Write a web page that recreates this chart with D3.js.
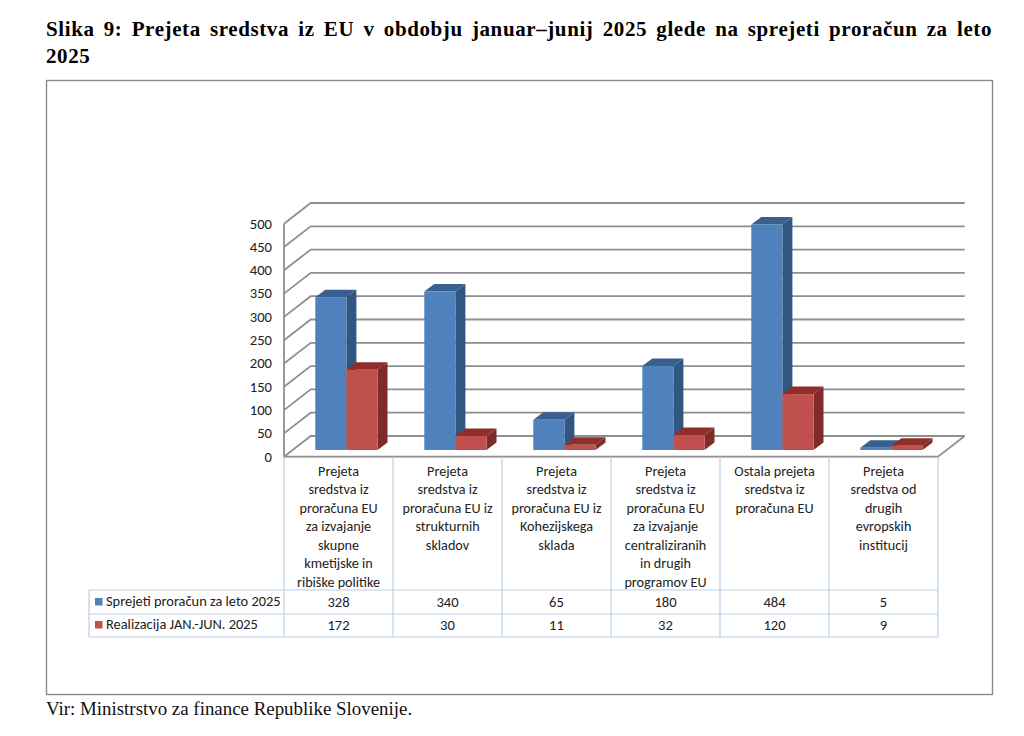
<!DOCTYPE html>
<html>
<head>
<meta charset="utf-8">
<script src="https://cdn.jsdelivr.net/npm/d3@7"></script>
<style>
  html, body { margin: 0; padding: 0; background: #fff; }
  svg { display: block; }
</style>
</head>
<body>
<div id="chart"></div>
<script>
const categories = [
  ["Prejeta", "sredstva iz", "proračuna EU", "za izvajanje", "skupne", "kmetijske in", "ribiške politike"],
  ["Prejeta", "sredstva iz", "proračuna EU iz", "strukturnih", "skladov"],
  ["Prejeta", "sredstva iz", "proračuna EU iz", "Kohezijskega", "sklada"],
  ["Prejeta", "sredstva iz", "proračuna EU", "za izvajanje", "centraliziranih", "in drugih", "programov EU"],
  ["Ostala prejeta", "sredstva iz", "proračuna EU"],
  ["Prejeta", "sredstva od", "drugih", "evropskih", "institucij"]
];
const budget = [328, 340, 65, 180, 484, 5];
const realised = [172, 30, 11, 32, 120, 9];
const seriesNames = ["Sprejeti proračun za leto 2025", "Realizacija JAN.-JUN. 2025"];
const yTicks = [0, 50, 100, 150, 200, 250, 300, 350, 400, 450, 500];
const titleLines = [
  "Slika 9: Prejeta sredstva iz EU v obdobju januar–junij 2025 glede na sprejeti proračun za leto",
  "2025"
];
const sourceText = "Vir: Ministrstvo za finance Republike Slovenije.";

const width = 1024;
const height = 736;

const SERIF = "'Liberation Serif', serif";
const SANS = "Carlito, Lato, 'Open Sans', sans-serif";

const BLUE = { front: "#4f81bd", top: "#37608f", side: "#315682" };
const RED = { front: "#c0504d", top: "#8f2f2c", side: "#7f2b29" };
const GRID = "#8f8f8f";
const TABLE_LINE = "#bccfe8";

// plot box
const FRONT_LEFT = 284;
const FRONT_RIGHT = 938;
const FRONT_ZERO = 456.7;
const WALL_DX = 26.7;
const WALL_DY = -20.7;
const BAR_DX = 10;
const BAR_DY = -7.5;
const BAR_BASE = 450;
const PX_PER_50 = 23.3;

// table
const TABLE_LEFT = 89;
const ROW1_Y = 590;
const ROW2_Y = 614;
const TABLE_BOTTOM = 637;

const svg = d3.select("#chart")
  .append("svg")
  .attr("width", width)
  .attr("height", height);

const x = d3.scaleBand()
  .domain(d3.range(categories.length))
  .range([FRONT_LEFT, FRONT_RIGHT]);

// heights above the floor, shared by gridlines and bars
const yHeight = d3.scaleLinear()
  .domain([0, 50])
  .range([0, PX_PER_50]);

const barX = d3.scaleBand()
  .domain([0, 1])
  .range([31.3, 93.5]);

// ------ title, frame, source ------ //
const title = svg.append("g")
  .style("font-family", SERIF)
  .style("font-weight", "bold")
  .style("font-size", "21px")
  .style("letter-spacing", "0.6px")
  .style("fill", "#000");

titleLines.forEach((line, i) => {
  const t = title.append("text")
    .attr("x", 46)
    .attr("y", 36 + i * 26.5)
    .text(line);
  if (i === 0) {
    // justified to the frame width
    const gaps = line.split(" ").length - 1;
    const extra = (992 - 46 - t.node().getComputedTextLength()) / gaps;
    t.style("word-spacing", extra + "px");
  }
});

svg.append("rect")
  .attr("x", 46.5)
  .attr("y", 80.5)
  .attr("width", 946)
  .attr("height", 614)
  .attr("fill", "#fff")
  .attr("stroke", "#8a8a8a")
  .attr("stroke-width", 1.4);

svg.append("text")
  .attr("x", 46)
  .attr("y", 714.5)
  .style("font-family", SERIF)
  .style("font-size", "18.9px")
  .style("fill", "#111")
  .text(sourceText);

// ------ walls ------ //
const grid = svg.append("g")
  .attr("fill", "none")
  .attr("stroke", GRID)
  .attr("stroke-width", 1.8);

grid.selectAll("path.grid")
  .data(yTicks)
  .enter()
  .append("path")
  .attr("class", "grid")
  .attr("d", (d) => {
    const y0 = FRONT_ZERO - yHeight(d);
    const right = FRONT_RIGHT + WALL_DX;
    return `M${FRONT_LEFT},${y0}L${FRONT_LEFT + WALL_DX},${y0 + WALL_DY}L${right},${y0 + WALL_DY}`;
  });

// front edge of the side wall and of the floor
grid.append("path")
  .attr("d", `M${FRONT_LEFT},${FRONT_ZERO - yHeight(500)}V${FRONT_ZERO}H${FRONT_RIGHT}L${FRONT_RIGHT + WALL_DX},${FRONT_ZERO + WALL_DY}`);

svg.append("g")
  .selectAll("text")
  .data(yTicks)
  .enter()
  .append("text")
  .attr("x", 272)
  .attr("y", (d) => FRONT_ZERO - yHeight(d) + 4.8)
  .attr("text-anchor", "end")
  .style("font-family", SANS)
  .style("font-size", "14.6px")
  .style("fill", "#222")
  .text((d) => d);

// ------ bars ------ //
function drawBar(g, x0, w, value, colors) {
  const h = yHeight(value);
  const top = BAR_BASE - h;
  g.append("path")
    .attr("fill", colors.side)
    .attr("d", `M${x0 + w},${BAR_BASE}L${x0 + w + BAR_DX},${BAR_BASE + BAR_DY}V${top + BAR_DY}L${x0 + w},${top}Z`);
  g.append("path")
    .attr("fill", colors.top)
    .attr("d", `M${x0},${top}L${x0 + BAR_DX},${top + BAR_DY}H${x0 + w + BAR_DX}L${x0 + w},${top}Z`);
  g.append("rect")
    .attr("fill", colors.front)
    .attr("x", x0)
    .attr("y", top)
    .attr("width", w)
    .attr("height", h);
}

const bars = svg.append("g");
categories.forEach((c, i) => {
  drawBar(bars, x(i) + barX(0), barX.bandwidth(), budget[i], BLUE);
  drawBar(bars, x(i) + barX(1), barX.bandwidth(), realised[i], RED);
});

// ------ data table ------ //
const table = svg.append("g")
  .attr("stroke", TABLE_LINE)
  .attr("stroke-width", 1.2);

[ROW1_Y, ROW2_Y, TABLE_BOTTOM].forEach((y) => {
  table.append("line")
    .attr("x1", TABLE_LEFT).attr("x2", FRONT_RIGHT)
    .attr("y1", y).attr("y2", y);
});

d3.range(categories.length + 1).forEach((i) => {
  const lx = i === categories.length ? FRONT_RIGHT : x(i);
  table.append("line")
    .attr("x1", lx).attr("x2", lx)
    .attr("y1", FRONT_ZERO).attr("y2", TABLE_BOTTOM);
});

table.append("line")
  .attr("x1", TABLE_LEFT).attr("x2", TABLE_LEFT)
  .attr("y1", ROW1_Y).attr("y2", TABLE_BOTTOM);

const cells = svg.append("g")
  .style("font-family", SANS)
  .style("font-size", "14.2px")
  .style("fill", "#222");

categories.forEach((lines, i) => {
  lines.forEach((line, j) => {
    cells.append("text")
      .attr("x", x(i) + x.bandwidth() / 2)
      .attr("y", 476 + j * 18.45)
      .attr("text-anchor", "middle")
      .text(line);
  });
});

[budget, realised].forEach((values, r) => {
  const rowY = r === 0 ? 607 : 630;
  values.forEach((v, i) => {
    cells.append("text")
      .attr("x", x(i) + x.bandwidth() / 2)
      .attr("y", rowY)
      .attr("text-anchor", "middle")
      .style("font-size", "14.6px")
      .text(v);
  });
  svg.append("rect")
    .attr("x", 95)
    .attr("y", rowY - 9)
    .attr("width", 7.5)
    .attr("height", 7.5)
    .attr("fill", r === 0 ? BLUE.front : RED.front);
  cells.append("text")
    .attr("x", 106)
    .attr("y", rowY - 1)
    .style("font-size", "14.4px")
    .text(seriesNames[r]);
});
</script>
</body>
</html>
